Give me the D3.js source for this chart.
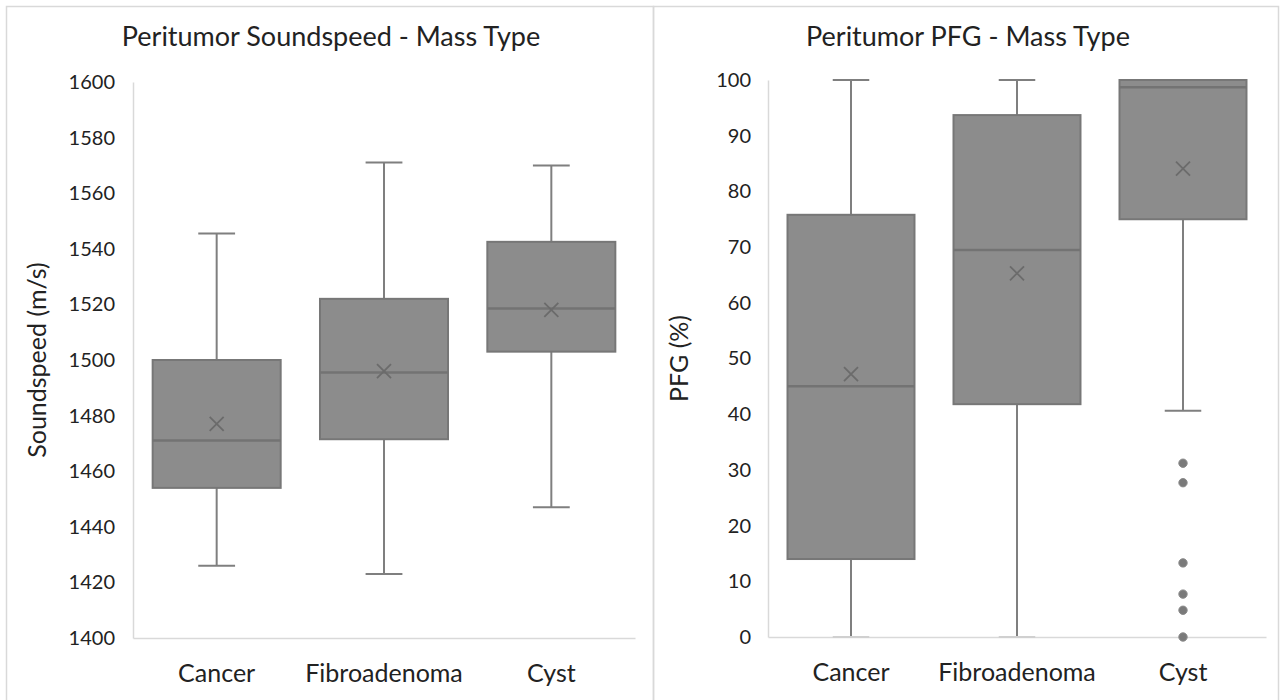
<!DOCTYPE html>
<html>
<head>
<meta charset="utf-8">
<script src="https://cdn.jsdelivr.net/npm/d3@7"></script>
<style>
  body { margin: 0; background: #fff; }
  text { font-family: Lato, "Open Sans", sans-serif; fill: #222; }
</style>
</head>
<body>
<svg id="chart" width="1283" height="700"></svg>
<script>
var categories = ["Cancer", "Fibroadenoma", "Cyst"];

// soundspeed panel: [min, q1, median, q3, max], mean
var ssStats = [
  [1426, 1454, 1471, 1500, 1545.5],
  [1423, 1471.5, 1495.5, 1522, 1571],
  [1447, 1503, 1518.5, 1542.5, 1570]
];
var ssMeans = [1477, 1496, 1518];
var ssTicks = [1400, 1420, 1440, 1460, 1480, 1500, 1520, 1540, 1560, 1580, 1600];

// PFG panel
var pfgStats = [
  [0, 14, 45, 75.8, 100],
  [0, 41.8, 69.5, 93.7, 100],
  [40.6, 75, 98.7, 100, 100]
];
var pfgMeans = [47.2, 65.3, 84.1];
var pfgOutliers = [[], [], [31.2, 27.7, 13.3, 7.7, 4.8, 0]];
var pfgTicks = [0, 10, 20, 30, 40, 50, 60, 70, 80, 90, 100];

var svg = d3.select("#chart");

// panel frames
svg.append("rect").attr("x", 6.5).attr("y", 6.5).attr("width", 647).attr("height", 700)
  .attr("fill", "none").attr("stroke", "#d9d9d9").attr("stroke-width", 1.5);
svg.append("rect").attr("x", 653.5).attr("y", 6.5).attr("width", 625).attr("height", 700)
  .attr("fill", "none").attr("stroke", "#d9d9d9").attr("stroke-width", 1.5);

function panel(opts) {
  var g = svg.append("g");

  var x = d3.scaleBand().domain(categories).range([opts.left, opts.right]);
  var y = d3.scaleLinear().domain(opts.domain).range([opts.bottom, opts.top]);

  g.append("text")
    .attr("x", opts.titleX).attr("y", 46)
    .attr("text-anchor", "middle")
    .style("font-size", "27px")
    .text(opts.title);

  var yAxis = g.append("g")
    .attr("transform", "translate(" + opts.left + ",0)")
    .call(d3.axisLeft(y).tickValues(opts.ticks).tickFormat(d3.format("d")).tickSize(0).tickPadding(opts.pad));
  yAxis.select(".domain").attr("stroke", "#d9d9d9").attr("stroke-width", 1.5);
  yAxis.selectAll("text").style("font-size", "20px").attr("fill", "#222");

  var xAxis = g.append("g")
    .attr("transform", "translate(0," + opts.bottom + ")")
    .call(d3.axisBottom(x).tickSize(0).tickPadding(26));
  xAxis.select(".domain").attr("stroke", "#d9d9d9").attr("stroke-width", 1.5);
  xAxis.selectAll("text").style("font-size", "25px").attr("fill", "#222");

  g.append("text")
    .attr("transform", "translate(" + opts.labelX + "," + ((opts.top + opts.bottom) / 2) + ") rotate(-90)")
    .attr("text-anchor", "middle")
    .style("font-size", "25px")
    .text(opts.label);

  var bw = x.bandwidth() * 0.765,
      cw = x.bandwidth() * 0.22;

  opts.stats.forEach(function(s, i) {
    var cx = x(categories[i]) + x.bandwidth() / 2;
    var b = g.append("g");
    // whiskers
    b.append("line").attr("x1", cx).attr("x2", cx).attr("y1", y(s[4])).attr("y2", y(s[3]))
      .attr("stroke", "#7f7f7f").attr("stroke-width", 2);
    b.append("line").attr("x1", cx).attr("x2", cx).attr("y1", y(s[1])).attr("y2", y(s[0]))
      .attr("stroke", "#7f7f7f").attr("stroke-width", 2);
    b.append("line").attr("x1", cx - cw / 2).attr("x2", cx + cw / 2).attr("y1", y(s[4])).attr("y2", y(s[4]))
      .attr("stroke", "#7f7f7f").attr("stroke-width", 2);
    b.append("line").attr("x1", cx - cw / 2).attr("x2", cx + cw / 2).attr("y1", y(s[0])).attr("y2", y(s[0]))
      .attr("stroke", s[0] == opts.domain[0] ? "#d0d0d0" : "#7f7f7f").attr("stroke-width", 2);
    // box
    b.append("rect")
      .attr("x", cx - bw / 2).attr("y", y(s[3]))
      .attr("width", bw).attr("height", y(s[1]) - y(s[3]))
      .attr("fill", "#8c8c8c").attr("stroke", "#777").attr("stroke-width", 2);
    b.append("line").attr("x1", cx - bw / 2).attr("x2", cx + bw / 2).attr("y1", y(s[2])).attr("y2", y(s[2]))
      .attr("stroke", "#737373").attr("stroke-width", 2.5);
    // mean marker
    var my = y(opts.means[i]), k = 7;
    b.append("path")
      .attr("d", "M" + (cx - k) + "," + (my - k) + "L" + (cx + k) + "," + (my + k) +
                 "M" + (cx - k) + "," + (my + k) + "L" + (cx + k) + "," + (my - k))
      .attr("stroke", "#6b6b6b").attr("stroke-width", 1.8);
    // outliers
    if (opts.outliers) {
      b.selectAll("circle").data(opts.outliers[i]).enter().append("circle")
        .attr("cx", cx).attr("cy", function(d) { return y(d); })
        .attr("r", 4.2)
        .attr("fill", "#7a7a7a").attr("stroke", "#8c8c8c").attr("stroke-width", 1);
    }
  });
}

panel({
  title: "Peritumor Soundspeed - Mass Type", titleX: 331,
  label: "Soundspeed (m/s)", labelX: 46,
  left: 133, right: 635, top: 82, bottom: 638,
  domain: [1400, 1600], ticks: ssTicks, pad: 18,
  stats: ssStats, means: ssMeans
});

panel({
  title: "Peritumor PFG - Mass Type", titleX: 968,
  label: "PFG (%)", labelX: 688,
  left: 768, right: 1266, top: 80, bottom: 637,
  domain: [0, 100], ticks: pfgTicks, pad: 17,
  stats: pfgStats, means: pfgMeans, outliers: pfgOutliers
});
</script>
</body>
</html>
